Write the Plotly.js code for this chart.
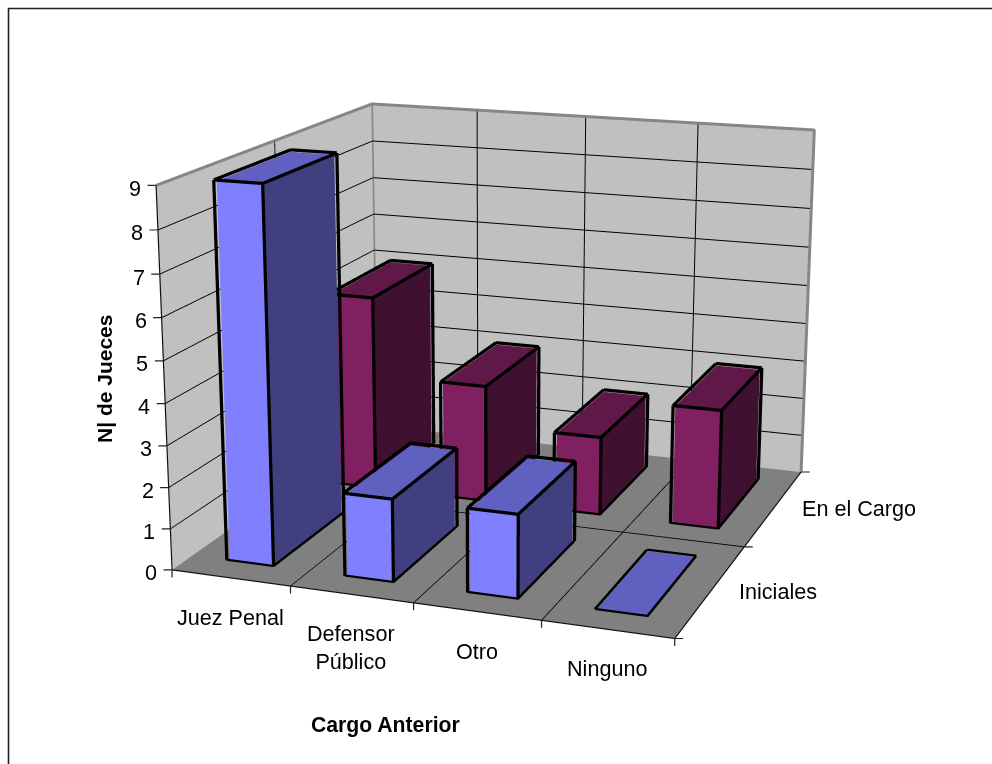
<!DOCTYPE html>
<html><head><meta charset="utf-8"><script src="https://cdn.plot.ly/plotly-3.0.1.min.js"></script>
<style>
html,body{margin:0;padding:0;background:#fff;overflow:hidden}
#frame{position:relative;width:992px;height:764px;overflow:hidden}
#chart{position:absolute;left:0;top:-563px;width:992px;height:1890px}
</style></head>
<body><div id="frame"><div id="chart"></div></div>
<script>
// Judges by previous post, two survey moments
var categories = ['Juez Penal', 'Defensor<br>Público', 'Otro', 'Ninguno'];
var seriesNames = ['Iniciales', 'En el Cargo'];
var iniciales = [9, 2, 2, 0];
var enElCargo = [5, 3, 2, 3];
var valueTicks = [0, 1, 2, 3, 4, 5, 6, 7, 8, 9];
var xTitle = 'Cargo Anterior';
var zTitle = 'N| de Jueces';

// Colours of the three visible faces of each series
var blueFaces = {front: '#8080ff', top: '#6060c0', side: '#404080'};
var maroonFaces = {front: '#802060', top: '#601848', side: '#401030'};

// The canvas is taller than the window: the fixed 45 degree field of view then gives a long lens
var PLOT_W = 992, PLOT_H = 1890, PLOT_TOP = -563;
var HALF_W = 0.2, HALF_D = 1 / 3;
// Faces sit a hair inside the outlines so the thick edges stay on top in the depth buffer
var INSET = 0.012, INSET_Z = 0.035;
var FONT = 'Liberation Sans, Arial, sans-serif';
var nCat = categories.length, nSer = seriesNames.length, vMax = valueTicks[valueTicks.length - 1];

function barsMesh(values, row, faces) {
  var m = {x: [], y: [], z: [], i: [], j: [], k: [], facecolor: []};
  function quad(a, b, c, d, col) {
    var s = m.x.length;
    [a, b, c, d].forEach(function (p) { m.x.push(p[0]); m.y.push(p[1]); m.z.push(p[2]); });
    m.i.push(s, s); m.j.push(s + 1, s + 2); m.k.push(s + 2, s + 3);
    m.facecolor.push(col, col);
  }
  values.forEach(function (v, c) {
    var x0 = c + 0.5 - HALF_W + INSET, x1 = c + 0.5 + HALF_W - INSET, y0 = row + 0.5 - HALF_D + INSET, y1 = row + 0.5 + HALF_D - INSET;
    var h = v > 0 ? v - INSET_Z : v;
    quad([x0, y0, 0], [x1, y0, 0], [x1, y0, h], [x0, y0, h], faces.front);
    quad([x1, y0, 0], [x1, y1, 0], [x1, y1, h], [x1, y0, h], faces.side);
    quad([x0, y0, h], [x1, y0, h], [x1, y1, h], [x0, y1, h], faces.top);
  });
  return {type: 'mesh3d', x: m.x, y: m.y, z: m.z, i: m.i, j: m.j, k: m.k, facecolor: m.facecolor,
    flatshading: true, hoverinfo: 'skip', showscale: false,
    lighting: {ambient: 1, diffuse: 0, specular: 0, fresnel: 0, roughness: 1}};
}

function barsOutline(values, row) {
  var t = {x: [], y: [], z: []};
  function seg(a, b) {
    t.x.push(a[0], b[0], null); t.y.push(a[1], b[1], null); t.z.push(a[2], b[2], null);
  }
  values.forEach(function (v, c) {
    var x0 = c + 0.5 - HALF_W, x1 = c + 0.5 + HALF_W, y0 = row + 0.5 - HALF_D, y1 = row + 0.5 + HALF_D;
    seg([x0, y0, v], [x1, y0, v]); seg([x1, y0, v], [x1, y1, v]); seg([x1, y1, v], [x0, y1, v]); seg([x0, y1, v], [x0, y0, v]);
    seg([x0, y0, 0], [x1, y0, 0]); seg([x1, y0, 0], [x1, y1, 0]);
    seg([x0, y0, 0], [x0, y0, v]); seg([x1, y0, 0], [x1, y0, v]); seg([x1, y1, 0], [x1, y1, v]);
  });
  return {type: 'scatter3d', mode: 'lines', x: t.x, y: t.y, z: t.z, hoverinfo: 'skip', connectgaps: false,
    line: {color: '#000', width: 6.5}};
}

function path3d(pts, color, width) {
  return {type: 'scatter3d', mode: 'lines', hoverinfo: 'skip',
    x: pts.map(function (p) { return p[0]; }), y: pts.map(function (p) { return p[1]; }), z: pts.map(function (p) { return p[2]; }),
    line: {color: color, width: width}};
}

var traces = [
  path3d([[0, 0, vMax], [0, nSer, vMax], [nCat, nSer, vMax], [nCat, nSer, 0]], '#868686', 6),
  path3d([[0, nSer, vMax], [0, nSer, 0]], '#868686', 6),
  path3d([[0, 0, vMax], [0, 0, 0], [nCat, 0, 0], [nCat, nSer, 0]], '#111', 2.4),
  barsMesh(enElCargo, 1, maroonFaces), barsOutline(enElCargo, 1),
  barsMesh(iniciales, 0, blueFaces), barsOutline(iniciales, 0)
];

function sceneAxis(range, wall, vals) {
  return {range: range, tickvals: vals, showbackground: true, backgroundcolor: wall, showgrid: true, gridcolor: '#000', gridwidth: 2,
    showticklabels: false, zeroline: false, showline: false, showspikes: false, ticks: '', title: {text: ''}};
}
var between = function (n) { var a = []; for (var i = 1; i < n; i++) a.push(i); return a; };

// Tick marks and their labels are annotations anchored to the data positions
var notes = [];
function tick(x, y, z, ax, ay) {
  notes.push({x: x, y: y, z: z, text: '', showarrow: true, arrowhead: 0, arrowwidth: 1.2, arrowcolor: '#222', ax: ax, ay: ay});
}
function label(x, y, z, text, opt) {
  notes.push(Object.assign({x: x, y: y, z: z, text: text, showarrow: false, font: {family: FONT, size: 21.6, color: '#000'}}, opt));
}
valueTicks.forEach(function (v) {
  tick(0, 0, v, -10, 0);
  label(0, 0, v, String(v), {xanchor: 'right', yanchor: 'middle', xshift: -13, yshift: -3});
});
for (var c = 0; c <= nCat; c++) tick(c, 0, 0, 0, 9);
for (var s = 0; s <= nSer; s++) tick(nCat, s, 0, 10, 0);
categories.forEach(function (name, c) {
  label(c + 0.5, 0, 0, name, {xanchor: 'center', yanchor: 'top', yshift: -25});
});
seriesNames.forEach(function (name, s) {
  label(nCat, s + 0.5, 0, name, {xanchor: 'left', yanchor: 'middle', xshift: 26, yshift: -1});
});

var px = function (x) { return x / PLOT_W; };
var py = function (y) { return 1 - (y - PLOT_TOP) / PLOT_H; };

var layout = {
  width: PLOT_W, height: PLOT_H, margin: {l: 0, r: 0, t: 0, b: 0, pad: 0}, paper_bgcolor: '#fff', showlegend: false,
  scene: {
    domain: {x: [0, 1], y: [0, 1]}, aspectmode: 'manual', aspectratio: {x: 1.3347, y: 1.3419, z: 1},
    camera: {eye: {x: 1.9986, y: -5.5388, z: 1.5705}, center: {x: -0.6753, y: 1.7650, z: -0.6544}, up: {x: 0, y: 0, z: 1}, projection: {type: 'perspective'}},
    xaxis: sceneAxis([0, nCat], '#c0c0c0', between(nCat)),
    yaxis: sceneAxis([0, nSer], '#c0c0c0', between(nSer)),
    zaxis: sceneAxis([0, vMax], '#808080', between(vMax)),
    annotations: notes
  },
  annotations: [
    {xref: 'paper', yref: 'paper', x: px(385), y: py(725), text: '<b>' + xTitle + '</b>', showarrow: false, xanchor: 'center', yanchor: 'middle', font: {family: FONT, size: 21.2, color: '#000'}},
    {xref: 'paper', yref: 'paper', x: px(104), y: py(379), text: '<b>' + zTitle + '</b>', textangle: -90, showarrow: false, xanchor: 'center', yanchor: 'middle', font: {family: FONT, size: 21, color: '#000'}}
  ],
  shapes: [{type: 'path', xref: 'paper', yref: 'paper', path: 'M' + px(8.5) + ' ' + py(764) + ' L' + px(8.5) + ' ' + py(8.5) + ' L' + px(992) + ' ' + py(8.5), line: {color: '#222', width: 1.6}}]
};
Plotly.newPlot('chart', traces, layout, {displayModeBar: false, scrollZoom: false});
</script></body></html>
